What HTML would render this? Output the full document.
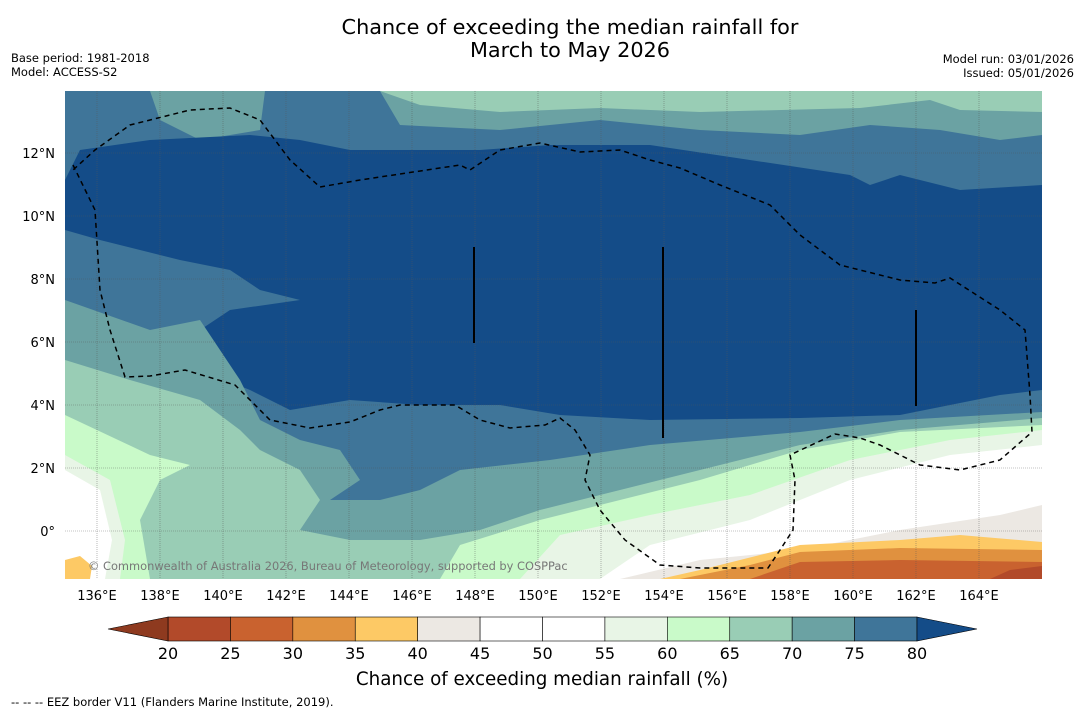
<!DOCTYPE html>
<html><head><meta charset="utf-8"><style>
body{margin:0;background:#fff;font-family:"DejaVu Sans",sans-serif;}
svg{display:block}
</style></head><body>
<svg id="c" width="1085" height="713" font-family="DejaVu Sans, sans-serif">
<text x="570" y="34" font-size="20.8" text-anchor="middle">Chance of exceeding the median rainfall for</text>
<text x="570" y="57" font-size="20.8" text-anchor="middle">March to May 2026</text>
<text x="11" y="62" font-size="11.5">Base period: 1981-2018</text>
<text x="11" y="76" font-size="11.5">Model: ACCESS-S2</text>
<text x="1074" y="63" font-size="11.5" text-anchor="end">Model run: 03/01/2026</text>
<text x="1074" y="77" font-size="11.5" text-anchor="end">Issued: 05/01/2026</text>
<defs><clipPath id="mc"><rect x="65" y="91" width="977" height="488"/></clipPath></defs>
<g id="map" clip-path="url(#mc)"></g>
<g id="axes"></g>
<g id="cbar"></g>
<text x="542" y="685" font-size="18.3" text-anchor="middle">Chance of exceeding median rainfall (%)</text>
<text x="11" y="706" font-size="11.5">--  --  -- EEZ border V11 (Flanders Marine Institute, 2019).</text>
</svg>
<script>
const levels=[20,25,30,35,40,45,50,55,60,65,70,75,80];
const binColors=["#b24a2a","#c9622f","#e0913f","#fdc965","#ece8e3","#ffffff","#ffffff","#e8f5e6","#c9fac9","#99cdb5","#6ba2a3","#3f7599"];
const lowColor="#8e3a1f", highColor="#144c88";
const lonTicks=[136,138,140,142,144,146,148,150,152,154,156,158,160,162,164];
const latTicks=[0,2,4,6,8,10,12];
const NS="http://www.w3.org/2000/svg";
const svg=document.getElementById('c');
function X(lon){return 97+(lon-136)*31.5;}
function Y(lat){return 531-lat*31.5;}
function mk(t,a,p){const e=document.createElementNS(NS,t);for(const k in a)e.setAttribute(k,a[k]);(p||svg).appendChild(e);return e;}
const map=document.getElementById('map');
function col(v){return binColors[levels.findIndex((l,i)=>v>=l&&v<levels[i+1])]||(v>=80?highColor:lowColor);}
const regions=[
 [72,"M65 91H1042V579H65Z"],
 [67,"M380 91H1042V112L960 110L930 100L860 108L700 112L600 108L500 112L420 105Z"],
 [77,"M65 91L150 91L160 120L200 140L260 130L265 91L380 91L400 125L500 130L600 120L700 130L800 135L870 125L940 130L1000 140L1042 135V579H65Z"],
 [85,"M65 230L65 180L80 150L150 140L250 135L300 140L350 150L480 150L550 145L650 145L750 160L850 175L870 185L900 175L960 190L1042 185L1042 390L1000 395L900 415L800 418L650 420L560 415L500 405L420 405L350 400L290 410L250 390L200 370L150 360L160 345L200 330L230 310L300 300L260 290L230 270L180 260L100 240Z"],
 [72,"M65 300L150 330L200 320L240 380L260 420L300 440L340 450L360 480L330 500L380 500L420 490L460 470L550 460L650 445L800 432L900 420L1042 412V579H65Z"],
 [67,"M65 360L130 380L200 400L240 430L260 450L300 470L320 500L300 530L350 540L420 540L480 530L540 510L600 495L700 470L800 445L900 430L1042 418V579H65Z"],
 [62,"M65 415L150 455L190 465L160 480L140 520L150 579H65Z"],
 [62,"M440 579L460 545L540 520L600 505L700 480L800 450L900 432L1042 425V579Z"],
 [57,"M520 579L560 535L650 515L750 495L850 460L950 440L1042 430V579Z"],
 [57,"M65 455L110 480L125 540L120 579H65Z"],
 [50,"M600 579L650 545L750 520L850 480L950 455L1042 445V579Z"],
 [50,"M65 470L100 490L112 540L105 579H65Z"],
 [42,"M620 579L700 560L800 550L900 530L1000 515L1042 505V579Z"],
 [37,"M660 579L700 570L760 555L800 545L900 540L960 535L1042 542V579Z"],
 [32,"M680 579L750 565L800 552L900 548L1042 550V579Z"],
 [27,"M750 579L800 562L900 560L1042 562V579Z"],
 [22,"M990 579L1010 570L1042 566V579Z"],
 [37,"M65 560L80 556L92 566L90 579H65Z"]
];
regions.forEach(r=>{const p=mk('path',{d:r[1],fill:col(r[0])},map);

});
lonTicks.forEach(l=>{const g=mk('line',{x1:X(l),x2:X(l),y1:91,y2:579,stroke:'#555','stroke-width':0.6,'stroke-dasharray':'1 1','stroke-opacity':0.7},map);
});
latTicks.forEach(l=>{const g=mk('line',{x1:65,x2:1042,y1:Y(l),y2:Y(l),stroke:'#555','stroke-width':0.6,'stroke-dasharray':'1 1','stroke-opacity':0.7},map);
});
const eez=mk('path',{d:"M73 165L95 210L100 290L110 330L125 377L150 376L185 370L235 385L250 400L270 420L310 428L350 422L380 410L400 405L455 405L480 420L510 428L545 425L560 418L575 430L590 455L585 480L600 510L625 540L660 565L700 568L768 568L780 550L793 530L795 480L790 455L835 434L860 438L880 445L920 465L960 470L1000 460L1032 432L1030 395L1025 330L1000 310L950 278L935 283L900 280L840 265L800 235L770 205L720 185L680 168L650 160L620 150L580 152L540 143L500 150L470 170L460 165L360 180L320 187L290 160L260 120L230 108L190 110L130 125L95 150L73 170",fill:'none',stroke:'#000','stroke-width':1.5,'stroke-dasharray':'5 4'},map);

[[474,247,343],[663,247,438],[916,310,406]].forEach(v=>{const l=mk('line',{x1:v[0],x2:v[0],y1:v[1],y2:v[2],stroke:'#000','stroke-width':2},map);
});
const cp=mk('text',{x:88,y:570,'font-size':11.4,fill:'#777'},map);cp.textContent='© Commonwealth of Australia 2026, Bureau of Meteorology, supported by COSPPac';

const ax=document.getElementById('axes');
lonTicks.forEach(l=>{const t=mk('text',{x:X(l),y:600,'font-size':13,'text-anchor':'middle'},ax);t.textContent=l+'°E';
});
latTicks.forEach(l=>{const t=mk('text',{x:55,y:Y(l)+5,'font-size':13,'text-anchor':'end'},ax);t.textContent=l===0?'0°':l+'°N';
});
const cb=document.getElementById('cbar');
const cx0=168,cw=(917-168)/(levels.length-1),cy=617,ch=24;
binColors.forEach((c,i)=>{const r=mk('rect',{x:cx0+i*cw,y:cy,width:cw,height:ch,fill:c,stroke:'#000','stroke-width':0.6},cb);
});
const la=mk('polygon',{points:`${cx0},${cy} 108,${cy+ch/2} ${cx0},${cy+ch}`,fill:lowColor,stroke:'#000','stroke-width':0.6},cb);

const ha=mk('polygon',{points:`917,${cy} 977,${cy+ch/2} 917,${cy+ch}`,fill:highColor,stroke:'#000','stroke-width':0.6},cb);

levels.forEach((l,i)=>{const t=mk('text',{x:cx0+i*cw,y:659,'font-size':16,'text-anchor':'middle'},cb);t.textContent=l;
});
</script>
</body></html>
